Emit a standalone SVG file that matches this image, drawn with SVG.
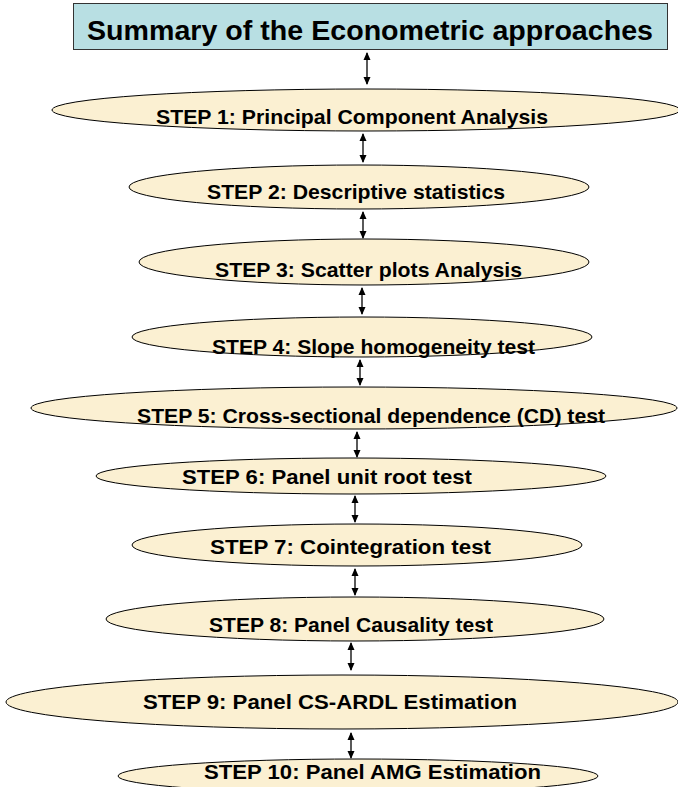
<svg xmlns="http://www.w3.org/2000/svg" width="678" height="787" viewBox="0 0 678 787">
<defs>
<marker id="ah" viewBox="0 0 8 8" refX="7" refY="4" markerWidth="8" markerHeight="8" markerUnits="userSpaceOnUse" orient="auto-start-reverse">
<path d="M0,0.5 L8,4 L0,7.5 Z" fill="#000"/>
</marker>
<style>
.hdr{fill:#b8dfe3;stroke:#333;stroke-width:1}
.step{fill:#fbf0d2;stroke:#000;stroke-width:1}
.t{font-family:"Liberation Sans",Arial,sans-serif;font-weight:bold;fill:#000}
.st{font-size:21px}
.ttl{font-size:28px}
.ar{stroke:#000;stroke-width:1.3;fill:none;marker-start:url(#ah);marker-end:url(#ah)}
</style>
</defs>
<rect width="678" height="787" fill="#fff"/>
<g id="connectors">
<line class="ar" x1="367" y1="53" x2="367" y2="84"/>
<line class="ar" x1="363" y1="134" x2="363" y2="162"/>
<line class="ar" x1="363" y1="212" x2="363" y2="238"/>
<line class="ar" x1="362" y1="288" x2="362" y2="314"/>
<line class="ar" x1="360" y1="360" x2="360" y2="385"/>
<line class="ar" x1="357" y1="432" x2="357" y2="457"/>
<line class="ar" x1="355" y1="496" x2="355" y2="522"/>
<line class="ar" x1="355" y1="569" x2="355" y2="595"/>
<line class="ar" x1="351" y1="643" x2="351" y2="670"/>
<line class="ar" x1="351" y1="733" x2="351" y2="758"/>
</g>
<g id="header">
<rect class="hdr" x="73.5" y="3.5" width="594" height="46"/>
<text class="t ttl" x="87" y="40" textLength="566" lengthAdjust="spacingAndGlyphs">Summary of the Econometric approaches</text>
</g>
<g id="step1">
<ellipse class="step" cx="366" cy="110" rx="314" ry="21"/>
<text class="t st" x="156" y="124" textLength="392" lengthAdjust="spacingAndGlyphs">STEP 1: Principal Component Analysis</text>
</g>
<g id="step2">
<ellipse class="step" cx="359" cy="187" rx="230" ry="22"/>
<text class="t st" x="207" y="199" textLength="298" lengthAdjust="spacingAndGlyphs">STEP 2: Descriptive statistics</text>
</g>
<g id="step3">
<ellipse class="step" cx="364" cy="262" rx="225" ry="23"/>
<text class="t st" x="215" y="277" textLength="307" lengthAdjust="spacingAndGlyphs">STEP 3: Scatter plots Analysis</text>
</g>
<g id="step4">
<ellipse class="step" cx="362" cy="337" rx="230" ry="20"/>
<text class="t st" x="212" y="354" textLength="323" lengthAdjust="spacingAndGlyphs">STEP 4: Slope homogeneity test</text>
</g>
<g id="step5">
<ellipse class="step" cx="354" cy="408" rx="323" ry="21"/>
<text class="t st" x="137" y="423" textLength="468" lengthAdjust="spacingAndGlyphs">STEP 5: Cross-sectional dependence (CD) test</text>
</g>
<g id="step6">
<ellipse class="step" cx="351" cy="476" rx="255" ry="18"/>
<text class="t st" x="182" y="484" textLength="290" lengthAdjust="spacingAndGlyphs">STEP 6: Panel unit root test</text>
</g>
<g id="step7">
<ellipse class="step" cx="357" cy="545" rx="225" ry="21"/>
<text class="t st" x="210" y="554" textLength="281" lengthAdjust="spacingAndGlyphs">STEP 7: Cointegration test</text>
</g>
<g id="step8">
<ellipse class="step" cx="355" cy="619" rx="249" ry="22"/>
<text class="t st" x="209" y="632" textLength="284" lengthAdjust="spacingAndGlyphs">STEP 8: Panel Causality test</text>
</g>
<g id="step9">
<ellipse class="step" cx="342" cy="702" rx="336" ry="27"/>
<text class="t st" x="143" y="709" textLength="374" lengthAdjust="spacingAndGlyphs">STEP 9: Panel CS-ARDL Estimation</text>
</g>
<g id="step10">
<ellipse class="step" cx="358" cy="776" rx="240" ry="17"/>
<text class="t st" x="204" y="779" textLength="337" lengthAdjust="spacingAndGlyphs">STEP 10: Panel AMG Estimation</text>
</g>
</svg>
